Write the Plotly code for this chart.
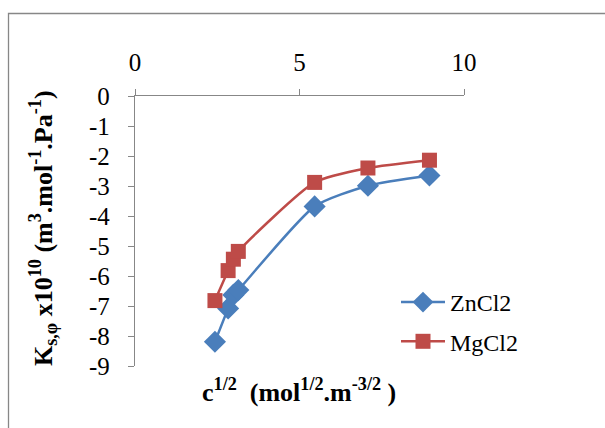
import plotly.graph_objects as go

x_vals = [2.43, 2.83, 2.99, 3.14, 5.46, 7.08, 8.95]
zncl2 = [-8.19, -7.08, -6.63, -6.47, -3.68, -2.99, -2.65]
mgcl2 = [-6.82, -5.82, -5.44, -5.18, -2.88, -2.40, -2.14]
x_ticks = [0, 5, 10]
y_ticks = [0, -1, -2, -3, -4, -5, -6, -7, -8, -9]
x_ticktext = ["0", "5", "10"]
y_ticktext = ["0", "-1", "-2", "-3", "-4", "-5", "-6", "-7", "-8", "-9"]

FONT = "Liberation Serif"
BLUE = "#4A7EBB"
RED = "#BE4B48"
AXC = "#878787"
TICKF = dict(family=FONT, size=25, color="black")
LEGF = dict(family=FONT, size=24, color="black")
TITF = dict(family=FONT, size=26, color="black")

fig = go.Figure()
fig.add_trace(go.Scatter(
    x=x_vals, y=zncl2, name="ZnCl2", mode="lines+markers", legendgroup="zn",
    line=dict(color=BLUE, width=2.5, shape="spline", smoothing=0.6),
    marker=dict(symbol="diamond", size=17, color=BLUE),
))
fig.add_trace(go.Scatter(
    x=x_vals, y=mgcl2, name="MgCl2", mode="lines+markers", legendgroup="mg",
    line=dict(color=RED, width=2.5, shape="spline", smoothing=0.6),
    marker=dict(symbol="square", size=15, color=RED),
))

L, R, T, B = 135, 141, 96, 62
W, H = 605, 428
pw, ph = W - L - R, H - T - B

def px(x):
    return (x - L) / pw

def py(y):
    return (H - B - y) / ph

fig.update_layout(
    width=W, height=H,
    margin=dict(l=L, r=R, t=T, b=B),
    paper_bgcolor="white", plot_bgcolor="white",
    showlegend=True,
    legend=dict(x=px(396), y=py(280), xanchor="left", yanchor="top",
                font=LEGF, bgcolor="rgba(0,0,0,0)", itemwidth=44,
                tracegroupgap=5),
    xaxis=dict(range=[0, 10], side="top", tickvals=x_ticks, ticktext=x_ticktext,
               showline=True, linecolor=AXC, linewidth=1.3, ticks="outside",
               tickcolor=AXC, ticklen=6, showgrid=False, zeroline=False,
               tickfont=TICKF, ticklabelstandoff=8),
    yaxis=dict(range=[-9, 0], tickvals=y_ticks, ticktext=y_ticktext,
               showline=True, linecolor=AXC, linewidth=1.3, ticks="outside",
               tickcolor=AXC, ticklen=6, showgrid=False, zeroline=False,
               tickfont=TICKF, ticklabelstandoff=13),
    shapes=[dict(type="rect", xref="paper", yref="paper",
                 x0=px(8.5), x1=px(640), y0=py(470), y1=py(13.5),
                 line=dict(color=AXC, width=1.3), fillcolor="rgba(0,0,0,0)", layer="below")],
    annotations=[
        dict(text="<b>K<sub>s,φ</sub> x10<sup>10</sup> (m<sup>3</sup>.mol<sup>-1</sup>.Pa<sup>-1</sup>)</b>",
             xref="paper", yref="paper", x=px(43), y=py(228), textangle=-90,
             showarrow=False, font=TITF, xanchor="center", yanchor="middle"),
        dict(text="<b>c<sup>1/2</sup>  (mol<sup>1/2</sup>.m<sup>-3/2</sup> )</b>",
             xref="paper", yref="paper", x=px(299), y=py(390),
             showarrow=False, font=TITF, xanchor="center", yanchor="middle"),
    ],
)

fig.write_html("out.html")
